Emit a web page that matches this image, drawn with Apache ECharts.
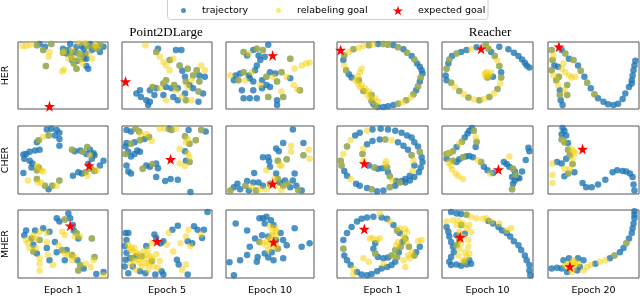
<!DOCTYPE html>
<html>
<head>
<meta charset="utf-8">
<script src="https://cdn.jsdelivr.net/npm/echarts@6/dist/echarts.min.js"></script>
<style>html,body{margin:0;padding:0;background:#fff;}#c{width:640px;height:298px;}</style>
</head>
<body>
<div id="c"></div>
<script>
// ---- labels ----
const rowNames = ['HER', 'CHER', 'MHER'];
const envTitles = ['Point2DLarge', 'Reacher'];
const epochLabels = ['Epoch 1', 'Epoch 5', 'Epoch 10', 'Epoch 1', 'Epoch 10', 'Epoch 20'];
const legendNames = ['trajectory', 'relabeling goal', 'expected goal'];

// ---- data (normalised panel units 0..100) ----
// *_TRAJ: trajectory only, *_GOAL: relabeling goal only, *_BOTH: relabeling goals lying on trajectory points
const HER_P2D_E1_TRAJ = [[24,97],[30,93],[58,97],[50,90],[54,83],[66,72],[71,94],[73,90],[80,97],[91,85],[95,93],[76,64],[78,60],[56,88],[63,85],[75,83],[82,88],[65,93],[76,75],[73,75],[60,73]];
const HER_P2D_E1_GOAL = [[5,94],[9,94],[14,96],[35,85],[34,78],[49,56],[51,59],[51,86],[62,75],[69,73],[75,98],[86,95],[72,68],[60,88],[78,83],[68,98],[82,75],[56,75]];
const HER_P2D_E1_BOTH = [[21,95],[28,88],[37,97],[31,64],[65,60],[50,84],[59,80],[77,94],[88,90],[67,83],[71,80],[84,93],[91,95],[62,68]];
const HER_P2D_E1_STAR = [[35,4]];

const HER_P2D_E5_TRAJ = [[40,90],[60,88],[66,88],[67,57],[86,50],[92,48],[75,36],[79,31],[90,23],[70,23],[62,31],[55,31],[49,33],[38,31],[31,28],[20,28],[16,23],[21,18],[27,13],[29,6],[31,11],[36,21],[46,21],[57,18],[62,13],[85,11],[70,48]];
const HER_P2D_E5_GOAL = [[26,95],[42,78],[46,70],[49,65],[57,75],[53,58],[88,65],[92,58],[77,43],[73,33],[66,18],[42,31],[49,13],[77,13],[60,28]];
const HER_P2D_E5_BOTH = [[38,85],[53,73],[64,65],[73,60],[83,58],[79,50],[86,41],[71,41],[85,26],[58,36],[46,38],[34,33],[71,13],[49,43]];
const HER_P2D_E5_STAR = [[4,41]];

const HER_P2D_E10_TRAJ = [[48,96],[24,80],[31,88],[37,80],[39,73],[44,78],[35,65],[33,58],[26,50],[16,53],[11,50],[9,43],[27,46],[31,41],[41,43],[50,55],[56,53],[73,46],[41,31],[31,28],[18,28],[20,16],[27,16],[35,16],[58,13],[58,6],[50,33],[46,36]];
const HER_P2D_E10_GOAL = [[26,83],[29,55],[5,50],[22,43],[39,36],[54,48],[69,48],[77,36],[81,29],[78,60],[86,65],[91,68],[95,69],[63,26]];
const HER_P2D_E10_BOTH = [[20,85],[35,90],[42,88],[20,55],[14,43],[46,48],[63,55],[84,28],[73,75],[58,41],[48,18],[65,18]];
const HER_P2D_E10_STAR = [[53,80]];

const HER_RCH_E1_TRAJ = [[45,97],[62,95],[73,89],[82,79],[88,68],[91,63],[93,58],[94,53],[91,41],[87,28],[62,6],[56,4],[51,3],[45,3],[7,73],[13,52],[16,47],[40,7]];
const HER_RCH_E1_GOAL = [[13,85],[24,91],[29,94],[40,96],[81,17],[72,10],[8,65],[20,43],[23,38],[25,32],[33,22],[36,17],[27,60],[25,55],[23,49],[27,36],[31,31],[35,26],[42,16],[45,11]];
const HER_RCH_E1_BOTH = [[8,80],[18,89],[35,95],[51,97],[56,96],[67,92],[77,84],[85,74],[92,47],[89,34],[84,22],[76,13],[67,8],[42,5],[10,58],[29,27],[38,12],[24,43],[38,21]];
const HER_RCH_E1_STAR = [[4,88]];

const HER_RCH_E10_TRAJ = [[5,43],[4,50],[7,68],[11,79],[21,85],[27,88],[38,92],[54,85],[65,55],[56,48],[63,93],[73,89],[79,84],[84,79],[88,74],[91,69],[93,65],[96,62]];
const HER_RCH_E10_GOAL = [[32,89],[61,72],[64,38],[57,23],[46,15],[35,14],[24,22],[14,33],[47,53],[49,55],[52,50],[54,54],[48,49]];
const HER_RCH_E10_BOTH = [[5,60],[8,74],[16,83],[48,96],[51,90],[58,79],[63,64],[65,47],[61,30],[52,18],[41,13],[29,17],[19,27],[10,39],[50,47]];
const HER_RCH_E10_STAR = [[43,90]];

const HER_RCH_E20_TRAJ = [[7,65],[13,28],[14,13],[16,6],[15,88],[23,75],[11,63],[33,65],[40,48],[47,31],[55,16],[61,11],[66,7],[72,6],[77,8],[82,15],[85,23],[89,33],[92,43],[93,50],[94,58],[95,65],[96,72],[92,38]];
const HER_RCH_E20_GOAL = [[6,80],[6,50],[11,36],[17,68],[15,60],[19,55],[23,50],[26,47],[30,48],[18,28]];
const HER_RCH_E20_BOTH = [[4,88],[5,73],[4,58],[9,43],[13,21],[19,83],[21,36],[21,21],[12,48],[28,73],[36,57],[43,39],[51,22]];
const HER_RCH_E20_STAR = [[12,93]];

const CHER_P2D_E1_TRAJ = [[32,95],[37,96],[43,94],[46,90],[41,86],[46,81],[21,76],[24,65],[19,64],[13,62],[9,59],[6,58],[7,52],[13,49],[16,45],[15,39],[6,31],[34,7],[46,71],[63,63],[69,64],[80,65],[84,60],[85,57],[76,59],[82,52],[78,44],[91,42],[95,49],[67,32],[71,30],[61,27]];
const CHER_P2D_E1_GOAL = [[28,84],[21,42],[26,35],[28,33],[11,20],[22,17],[26,17],[43,12],[80,57],[88,35],[77,27]];
const CHER_P2D_E1_BOTH = [[34,86],[23,79],[23,39],[21,35],[21,22],[30,12],[38,12],[46,20],[60,65],[72,62],[77,69],[81,37],[85,34],[75,32]];
const CHER_P2D_E1_STAR = [[79,42]];

const CHER_P2D_E5_TRAJ = [[5,94],[10,92],[25,81],[14,76],[5,75],[4,70],[7,62],[10,55],[14,59],[17,64],[20,62],[5,42],[7,33],[10,30],[27,42],[31,40],[38,45],[40,38],[38,25],[48,19],[54,22],[62,21],[76,3],[52,96],[74,94],[93,92],[70,63],[71,49]];
const CHER_P2D_E5_GOAL = [[21,88],[27,88],[33,78],[42,96],[48,96],[60,96],[73,81],[71,76],[64,66],[73,60],[75,54],[70,41],[64,45]];
const CHER_P2D_E5_BOTH = [[15,96],[19,92],[30,84],[20,79],[10,74],[4,59],[23,37],[34,44],[55,94],[88,94],[70,85],[75,74],[82,79],[75,47]];
const CHER_P2D_E5_STAR = [[54,51]];

const CHER_P2D_E10_TRAJ = [[76,95],[65,75],[88,75],[57,67],[60,63],[42,54],[48,54],[49,48],[50,40],[32,31],[57,30],[78,30],[9,10],[13,15],[16,7],[24,19],[26,5],[42,12],[61,17],[67,20],[73,10],[76,20],[80,12],[86,5],[31,17],[37,17]];
const CHER_P2D_E10_GOAL = [[74,71],[74,62],[94,65],[95,52],[61,42],[63,42],[46,35],[29,10],[39,7],[46,7],[56,12],[63,6],[55,22]];
const CHER_P2D_E10_BOTH = [[88,57],[59,49],[69,51],[5,5],[22,12],[34,5],[50,15],[59,22],[65,12],[70,15],[82,6]];
const CHER_P2D_E10_STAR = [[53,15]];

const CHER_RCH_E1_TRAJ = [[8,34],[11,27],[21,15],[25,12],[33,9],[44,4],[51,5],[64,12],[75,17],[80,20],[85,25],[90,32],[92,39],[94,47],[93,54],[89,70],[85,76],[82,83],[77,86],[71,90],[64,93],[56,95],[48,96],[39,95],[25,90],[20,86],[33,73],[39,78],[47,80],[67,76],[73,71],[78,65],[85,42],[80,27],[75,22],[35,42],[45,37],[50,38],[56,32],[65,19],[71,19]];
const CHER_RCH_E1_GOAL = [[7,59],[15,22],[33,93],[15,79],[60,79],[84,49],[83,34],[29,67],[29,49],[53,44],[54,48],[61,20]];
const CHER_RCH_E1_BOTH = [[4,49],[5,42],[38,7],[58,10],[69,17],[91,62],[11,70],[53,80],[82,57],[28,59],[41,39],[55,39],[58,26]];
const CHER_RCH_E1_STAR = [[30,45]];

const CHER_RCH_E10_TRAJ = [[33,97],[30,93],[28,89],[37,69],[25,83],[16,69],[5,52],[16,47],[19,51],[26,55],[30,56],[34,54],[46,40],[50,35],[56,31],[68,47],[71,44],[74,40],[80,33],[83,24],[80,20],[78,15],[85,23],[88,33],[92,50],[95,68],[96,63],[77,25]];
const CHER_RCH_E10_GOAL = [[37,84],[19,74],[7,46],[10,42],[11,36],[15,30],[18,26],[23,22],[39,50],[53,30],[74,55]];
const CHER_RCH_E10_BOTH = [[35,93],[38,77],[22,77],[12,63],[8,60],[5,59],[12,49],[23,54],[43,47],[78,37],[81,28],[77,7]];
const CHER_RCH_E10_STAR = [[62,36]];

const CHER_RCH_E20_TRAJ = [[16,97],[18,93],[15,88],[20,86],[22,75],[20,52],[18,26],[29,32],[10,47],[15,45],[38,16],[42,10],[48,10],[55,14],[63,21],[71,32],[76,35],[82,34],[86,33],[90,30],[93,25],[94,14],[95,5]];
const CHER_RCH_E20_GOAL = [[26,66],[28,62],[30,60],[27,52],[24,37],[18,37],[5,45],[5,28],[5,16]];
const CHER_RCH_E20_BOTH = [[15,80],[18,76],[22,65],[24,57],[27,44],[22,30]];
const CHER_RCH_E20_STAR = [[38,66]];

const MHER_P2D_E1_TRAJ = [[43,88],[46,83],[56,95],[58,88],[61,78],[62,70],[67,58],[35,68],[28,73],[19,70],[9,70],[7,63],[17,49],[21,36],[32,44],[35,26],[41,53],[43,38],[54,41],[66,26],[52,26],[73,14],[87,6],[95,9]];
const MHER_P2D_E1_GOAL = [[63,61],[69,61],[49,68],[52,63],[32,66],[24,68],[9,56],[11,51],[17,63],[20,58],[20,44],[24,29],[24,21],[32,53],[33,34],[39,19],[45,48],[52,36],[56,34],[63,31],[60,26],[75,21],[81,16],[84,26],[95,4],[13,44],[24,11]];
const MHER_P2D_E1_BOTH = [[52,86],[65,66],[82,58],[15,58],[24,56],[17,39],[49,41],[60,34],[69,19],[67,11],[85,31]];
const MHER_P2D_E1_STAR = [[58,77]];

const MHER_P2D_E5_TRAJ = [[95,97],[4,66],[5,56],[3,47],[5,37],[4,27],[3,17],[7,7],[27,47],[20,10],[26,7],[44,10],[46,5],[37,5],[36,64],[38,59],[43,51],[46,54],[56,71],[62,77],[61,27],[63,20],[73,5],[80,76],[84,71],[91,71],[89,59],[73,54],[78,51],[9,29],[12,17],[16,32],[7,66]];
const MHER_P2D_E5_GOAL = [[7,49],[9,42],[12,39],[16,37],[14,25],[18,27],[24,39],[29,42],[31,32],[27,22],[22,17],[29,12],[35,17],[40,15],[33,51],[50,49],[52,66],[57,39],[67,12],[71,20],[65,51],[71,61],[74,71],[88,64],[76,47],[10,45],[14,44],[19,35],[25,28],[20,22],[30,20],[34,28],[38,35],[42,25],[10,20],[15,12],[28,34]];
const MHER_P2D_E5_BOTH = [[11,29],[22,32],[33,25]];
const MHER_P2D_E5_STAR = [[39,54]];

const MHER_P2D_E10_TRAJ = [[11,80],[9,4],[4,23],[16,26],[24,70],[27,46],[36,31],[35,24],[24,34],[33,58],[38,88],[42,88],[46,90],[51,85],[54,78],[44,80],[48,61],[41,63],[44,36],[52,38],[57,56],[62,66],[65,56],[69,48],[78,73],[86,46],[95,51],[48,30],[54,26],[65,29]];
const MHER_P2D_E10_GOAL = [[50,76],[56,74],[57,69],[52,63],[42,51],[46,48],[51,53],[57,48],[54,46],[48,41],[57,61],[53,68],[50,58],[55,52],[47,55]];
const MHER_P2D_E10_BOTH = [[38,53],[59,43]];
const MHER_P2D_E10_STAR = [[54,53]];

const MHER_RCH_E1_TRAJ = [[7,56],[11,66],[16,75],[22,83],[27,87],[33,89],[40,90],[49,89],[55,87],[62,78],[69,66],[8,33],[11,26],[15,19],[22,9],[27,5],[33,4],[38,6],[44,10],[49,14],[55,16],[60,19],[64,24],[68,38],[72,53],[42,51],[40,43],[45,31],[51,29],[56,30],[87,38],[91,46]];
const MHER_RCH_E1_GOAL = [[47,95],[58,83],[69,73],[75,72],[77,68],[18,14],[36,58],[39,59],[44,56],[47,58],[65,48],[67,53],[73,61],[76,53],[82,38],[93,56],[89,54],[78,33],[80,29],[29,29],[35,24],[18,6],[51,21],[73,26],[75,16]];
const MHER_RCH_E1_BOTH = [[66,70],[7,43],[66,31],[70,46],[75,58],[42,36],[60,33],[64,41],[79,46],[85,33]];
const MHER_RCH_E1_STAR = [[30,72]];

const MHER_RCH_E10_TRAJ = [[10,97],[16,95],[21,94],[51,84],[56,80],[62,75],[66,70],[71,66],[75,61],[79,54],[84,48],[87,41],[91,33],[93,26],[96,19],[96,11],[97,4],[5,75],[7,68],[8,61],[10,53],[12,46],[13,38],[10,31],[8,24],[10,19],[16,20],[21,18],[27,20],[32,21],[30,26],[16,63],[25,65]];
const MHER_RCH_E10_GOAL = [[32,90],[38,88],[45,87],[49,88],[54,83],[63,80],[71,70],[76,73],[23,26],[18,33],[19,43],[21,51],[25,38],[27,31],[30,36],[29,46],[23,61],[19,68],[16,78],[12,85],[18,85],[23,80],[29,56],[5,83],[27,73],[30,78],[32,68]];
const MHER_RCH_E10_BOTH = [[27,93],[19,56],[16,48],[25,24],[21,78]];
const MHER_RCH_E10_STAR = [[20,60]];

const MHER_RCH_E20_TRAJ = [[95,98],[95,93],[95,88],[94,80],[93,73],[92,66],[89,58],[83,44],[79,38],[68,29],[52,21],[39,26],[33,29],[23,29],[17,26],[32,11],[21,9],[15,14],[10,15],[4,14],[35,16]];
const MHER_RCH_E20_GOAL = [[63,26],[57,24],[47,19],[43,16],[28,26],[21,21],[24,19],[28,14],[26,9],[23,15],[30,20],[39,11],[19,18],[28,24],[33,21]];
const MHER_RCH_E20_BOTH = [[86,51],[73,33]];
const MHER_RCH_E20_STAR = [[24,17]];

const panelData = [
  [HER_P2D_E1_TRAJ, HER_P2D_E1_GOAL, HER_P2D_E1_BOTH, HER_P2D_E1_STAR],
  [HER_P2D_E5_TRAJ, HER_P2D_E5_GOAL, HER_P2D_E5_BOTH, HER_P2D_E5_STAR],
  [HER_P2D_E10_TRAJ, HER_P2D_E10_GOAL, HER_P2D_E10_BOTH, HER_P2D_E10_STAR],
  [HER_RCH_E1_TRAJ, HER_RCH_E1_GOAL, HER_RCH_E1_BOTH, HER_RCH_E1_STAR],
  [HER_RCH_E10_TRAJ, HER_RCH_E10_GOAL, HER_RCH_E10_BOTH, HER_RCH_E10_STAR],
  [HER_RCH_E20_TRAJ, HER_RCH_E20_GOAL, HER_RCH_E20_BOTH, HER_RCH_E20_STAR],
  [CHER_P2D_E1_TRAJ, CHER_P2D_E1_GOAL, CHER_P2D_E1_BOTH, CHER_P2D_E1_STAR],
  [CHER_P2D_E5_TRAJ, CHER_P2D_E5_GOAL, CHER_P2D_E5_BOTH, CHER_P2D_E5_STAR],
  [CHER_P2D_E10_TRAJ, CHER_P2D_E10_GOAL, CHER_P2D_E10_BOTH, CHER_P2D_E10_STAR],
  [CHER_RCH_E1_TRAJ, CHER_RCH_E1_GOAL, CHER_RCH_E1_BOTH, CHER_RCH_E1_STAR],
  [CHER_RCH_E10_TRAJ, CHER_RCH_E10_GOAL, CHER_RCH_E10_BOTH, CHER_RCH_E10_STAR],
  [CHER_RCH_E20_TRAJ, CHER_RCH_E20_GOAL, CHER_RCH_E20_BOTH, CHER_RCH_E20_STAR],
  [MHER_P2D_E1_TRAJ, MHER_P2D_E1_GOAL, MHER_P2D_E1_BOTH, MHER_P2D_E1_STAR],
  [MHER_P2D_E5_TRAJ, MHER_P2D_E5_GOAL, MHER_P2D_E5_BOTH, MHER_P2D_E5_STAR],
  [MHER_P2D_E10_TRAJ, MHER_P2D_E10_GOAL, MHER_P2D_E10_BOTH, MHER_P2D_E10_STAR],
  [MHER_RCH_E1_TRAJ, MHER_RCH_E1_GOAL, MHER_RCH_E1_BOTH, MHER_RCH_E1_STAR],
  [MHER_RCH_E10_TRAJ, MHER_RCH_E10_GOAL, MHER_RCH_E10_BOTH, MHER_RCH_E10_STAR],
  [MHER_RCH_E20_TRAJ, MHER_RCH_E20_GOAL, MHER_RCH_E20_BOTH, MHER_RCH_E20_STAR]
];

// ---- layout (px) ----
const colLeft = [18, 122, 226, 337, 442, 548];
const colWidth = [90, 90, 88, 91, 91, 91];
const rowTop = [42, 126, 210];
const rowHeight = [67, 68, 68];

const STAR = 'path://M50,0L61.8,35.1L98.1,35.1L68.8,56.8L79.4,91L50,70L20.6,91L31.2,56.8L1.9,35.1L38.2,35.1Z';
const SANS = 'DejaVu Sans';
const BLUE = '#1f77b4';
const GOLD = '#f5cf00';

const grids = [], xAxes = [], yAxes = [], series = [];
for (let r = 0; r < 3; r++) {
  for (let c = 0; c < 6; c++) {
    const i = r * 6 + c;
    grids.push({left: colLeft[c], top: rowTop[r], width: colWidth[c], height: rowHeight[r],
      show: true, borderColor: '#555', borderWidth: 1, backgroundColor: 'transparent'});
    xAxes.push({type: 'value', gridIndex: i, min: 0, max: 100, show: false});
    yAxes.push({type: 'value', gridIndex: i, min: 0, max: 100, show: false});
    const d = panelData[i];
    series.push({type: 'scatter', name: legendNames[0], xAxisIndex: i, yAxisIndex: i,
      data: d[0].concat(d[2]), symbolSize: 6.5, silent: true,
      itemStyle: {color: BLUE, opacity: 0.8}});
    series.push({type: 'scatter', name: legendNames[1], xAxisIndex: i, yAxisIndex: i,
      data: d[1].concat(d[2]), symbolSize: 6.5, silent: true,
      itemStyle: {color: GOLD, opacity: 0.5}});
    series.push({type: 'scatter', name: legendNames[2], xAxisIndex: i, yAxisIndex: i,
      data: d[3], symbol: STAR, symbolSize: 11, silent: true, z: 3,
      itemStyle: {color: '#ff0000', opacity: 1}});
  }
}

function txt(text, x, y, font, rot) {
  return {type: 'text', x: x, y: y, rotation: rot || 0, silent: true, z: 10,
    style: {text: text, font: font, fill: '#000', align: 'center', verticalAlign: 'middle',
      textAlign: 'center', textVerticalAlign: 'middle'}};
}
const graphics = [];
graphics.push({type: 'rect', shape: {x: 167.5, y: -4, width: 320.5, height: 23.5, r: 3}, silent: true, z: 0,
  style: {fill: '#fff', stroke: '#cfcfcf', lineWidth: 1}});
rowNames.forEach((n, r) => graphics.push(txt(n, 6, rowTop[r] + rowHeight[r] / 2, '9.5px "' + SANS + '"', Math.PI / 2)));
graphics.push(txt(envTitles[0], 166, 33, '13px "Liberation Serif"'));
graphics.push(txt(envTitles[1], 490, 33, '13px "Liberation Serif"'));
epochLabels.forEach((n, c) => graphics.push(txt(n, colLeft[c] + colWidth[c] / 2, 291, '9.5px "' + SANS + '"')));

const legendText = {fontFamily: SANS, fontSize: 9.5, color: '#000'};
const legends = [
  {data: [{name: legendNames[0], icon: 'circle'}], left: 181, top: 5.5, itemWidth: 5, itemHeight: 5, padding: 0, selectedMode: false,
    textStyle: Object.assign({padding: [0, 0, 0, 11]}, legendText)},
  {data: [{name: legendNames[1], icon: 'circle'}], left: 276, top: 5.5, itemWidth: 5, itemHeight: 5, padding: 0, selectedMode: false,
    textStyle: Object.assign({padding: [0, 0, 0, 11]}, legendText)},
  {data: [{name: legendNames[2], icon: STAR}], left: 393, top: 5.5, itemWidth: 10, itemHeight: 10, padding: 0, selectedMode: false,
    textStyle: Object.assign({padding: [0, 0, 0, 10]}, legendText)}
];

const chart = echarts.init(document.getElementById('c'), null, {renderer: 'canvas'});
chart.setOption({
  animation: false,
  backgroundColor: '#fff',
  grid: grids, xAxis: xAxes, yAxis: yAxes,
  legend: legends,
  graphic: graphics,
  series: series
});
</script>
</body>
</html>
